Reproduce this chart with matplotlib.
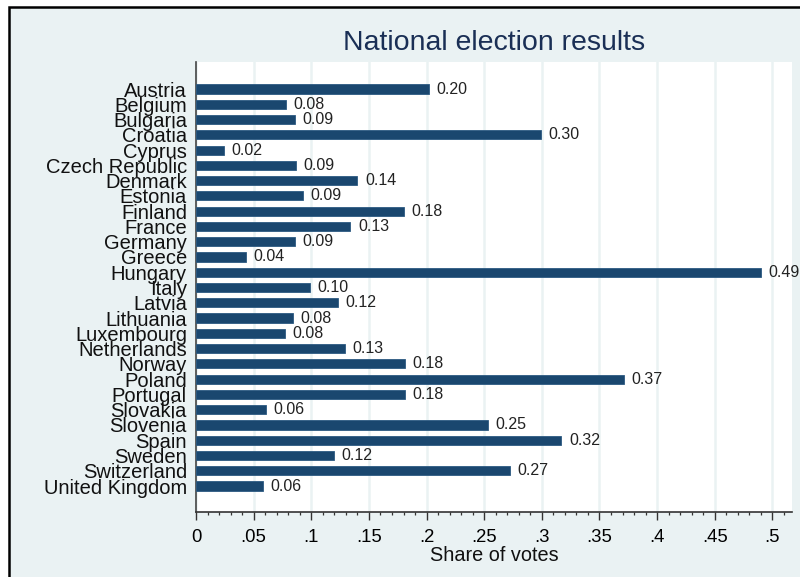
import numpy as np
import matplotlib
matplotlib.use("Agg")
import matplotlib.pyplot as plt
from matplotlib.patches import Rectangle
from matplotlib.ticker import MultipleLocator, FuncFormatter

# National election results, share of votes by country
countries = ['Austria', 'Belgium', 'Bulgaria', 'Croatia', 'Cyprus',
             'Czech Republic', 'Denmark', 'Estonia', 'Finland', 'France',
             'Germany', 'Greece', 'Hungary', 'Italy', 'Latvia', 'Lithuania',
             'Luxembourg', 'Netherlands', 'Norway', 'Poland', 'Portugal',
             'Slovakia', 'Slovenia', 'Spain', 'Sweden', 'Switzerland',
             'United Kingdom']
shares = [0.202, 0.078, 0.086, 0.299, 0.024,
          0.087, 0.140, 0.093, 0.180, 0.134,
          0.086, 0.043, 0.490, 0.099, 0.123, 0.084,
          0.077, 0.129, 0.181, 0.371, 0.181,
          0.061, 0.253, 0.317, 0.120, 0.272,
          0.058]

navy = '#1a476f'
bg = '#eaf2f3'

plt.rcParams['font.family'] = ['Liberation Sans', 'DejaVu Sans']

fig = plt.figure(figsize=(8, 5.77), dpi=100)
fig.patch.set_facecolor('white')
# outer panel with black border on left/top
fig.patches.append(Rectangle((8.5/800, -0.05), 1.2, 1.05 - 7.5/577,
                             transform=fig.transFigure, facecolor=bg,
                             edgecolor='black', linewidth=1.8, zorder=-1))

ax = fig.add_axes([196/800, 1 - 512/577, (792 - 196)/800, (512 - 62)/577])
ax.set_zorder(2)
ax.set_facecolor('white')

y = np.arange(len(countries))
ax.barh(y, shares, height=0.6, color=navy, edgecolor='#2c5a82', linewidth=0.6, zorder=3)
for yi, v in zip(y, shares):
    ax.text(v + 0.0065, yi, '%.2f' % v, va='center', ha='left',
            fontsize=11.5, color='#222222', zorder=4)

ax.set_ylim(len(countries) - 1 + 1.7, -1.77)
ax.set_xlim(0, 0.517)
ax.set_yticks(y)
ax.set_yticklabels(countries, fontsize=14.5, color='#111111')
ax.tick_params(axis='y', length=0, pad=6.5)

ax.xaxis.set_major_locator(MultipleLocator(0.05))
ax.xaxis.set_minor_locator(MultipleLocator(0.01))
ax.xaxis.set_major_formatter(FuncFormatter(
    lambda v, p: '0' if abs(v) < 1e-9 else ('%g' % round(v, 2)).lstrip('0')))
ax.tick_params(axis='x', which='major', length=5.5, width=1, labelsize=13.3, pad=7, color='#333333')
ax.tick_params(axis='x', which='minor', length=2.4, width=0.9, color='#333333')
ax.set_xlabel('Share of votes', fontsize=14.3, labelpad=0, color='#111111')

ax.grid(axis='x', which='major', color=bg, linewidth=1.8, zorder=0)
ax.set_axisbelow(True)

for side in ['top', 'right']:
    ax.spines[side].set_visible(False)
ax.spines['left'].set_color('#444444')
ax.spines['left'].set_linewidth(1.2)
ax.spines['bottom'].set_color('#333333')
ax.spines['bottom'].set_linewidth(1.2)

fig.text(494/800, 1 - 43/577, 'National election results', ha='center', va='center',
         fontsize=20.5, color='#1a2f55')

fig.savefig('out.png', dpi=100)
